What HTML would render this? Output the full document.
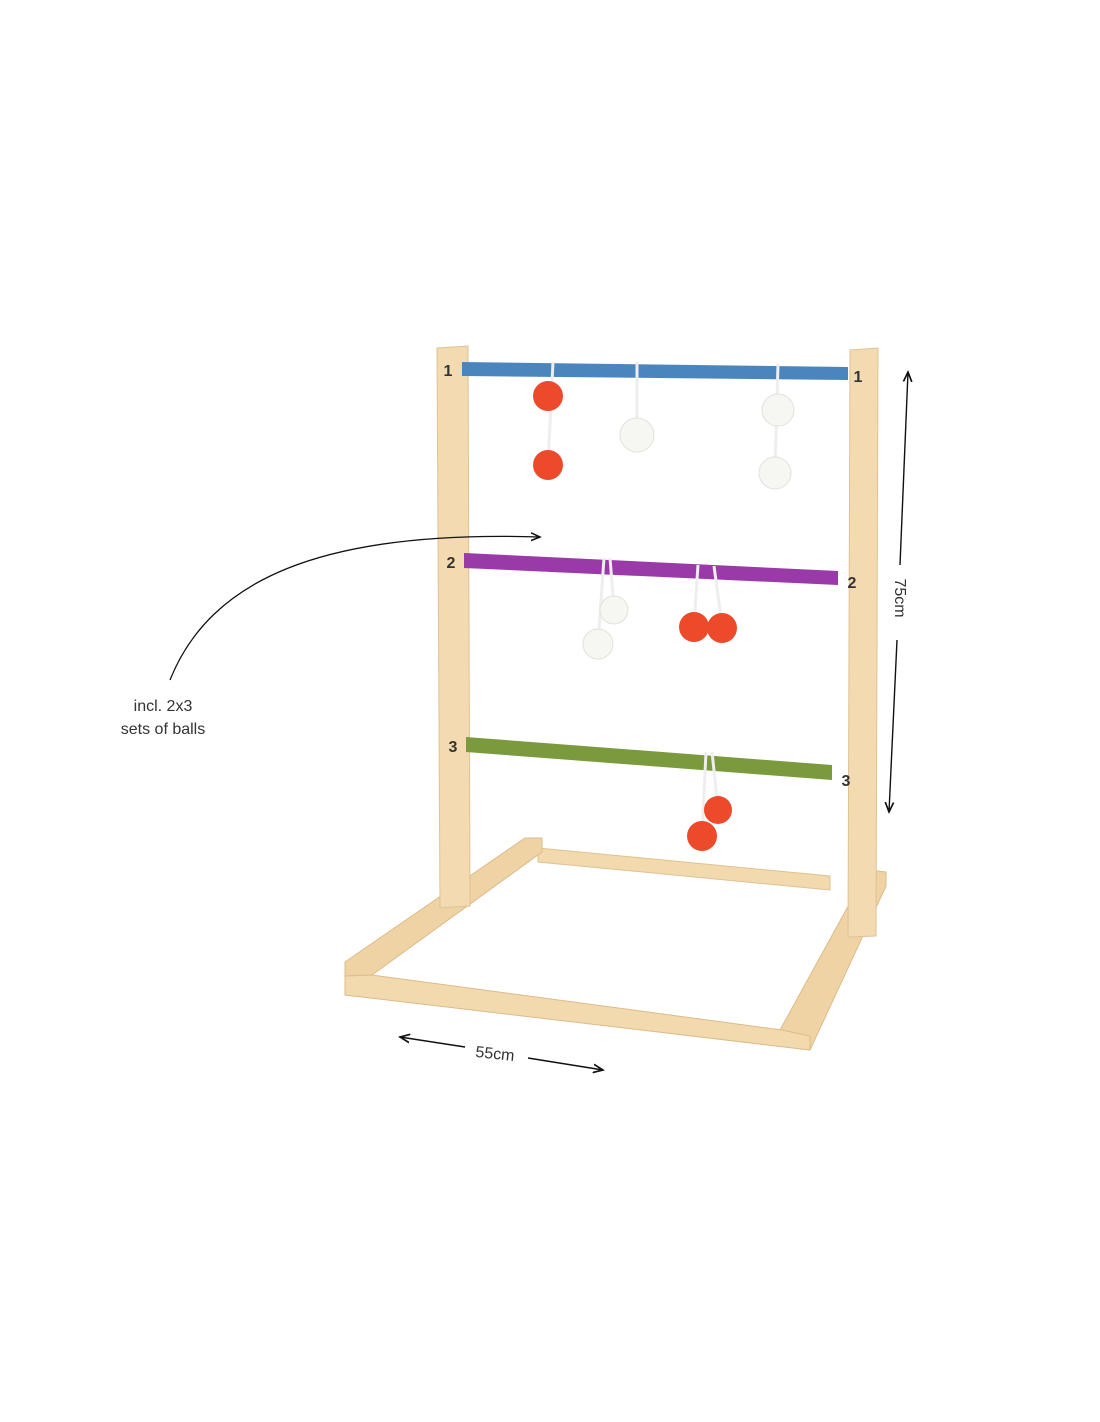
<!DOCTYPE html>
<html><head><style>body{margin:0;background:#fff}svg{display:block}</style></head><body>
<svg width="1100" height="1422" viewBox="0 0 1100 1422" xmlns="http://www.w3.org/2000/svg" font-family="Liberation Sans, sans-serif">
<defs><marker id="ah" markerWidth="8" markerHeight="8" refX="7" refY="4" orient="auto"><path d="M0,1 L7,4 L0,7" fill="none" stroke="#111" stroke-width="1.2"/></marker></defs>
<!-- base -->
<polygon points="538,848 830,876 830,890 538,862" fill="#f2d9ae" stroke="#e0c292"/>
<polygon points="345,962 525,838 542,838 542,852 372,975 345,990" fill="#efd3a5" stroke="#ddbb88"/>
<polygon points="868,870 886,872 886,886 810,1050 780,1045 780,1030" fill="#efd3a5" stroke="#ddbb88"/>
<polygon points="345,976 372,975 782,1030 810,1036 810,1050 345,995" fill="#f2d9ae" stroke="#ddbb88"/>
<!-- posts -->
<polygon points="437,348 468,346 470,906 440,908" fill="#f3dab0" stroke="#e0c292"/>
<polygon points="850,350 878,348 876,936 848,937" fill="#f3dab0" stroke="#e0c292"/>
<!-- bars -->
<polygon points="462,362 848,367 848,380 462,376" fill="#4a86bd"/>
<polygon points="464,553 838,571 838,585 464,568" fill="#9a3aa9"/>
<polygon points="466,737 832,765 832,780 466,752" fill="#7b9a3e"/>
<!-- strings -->
<g stroke="#eee" stroke-width="3" fill="none">
<line x1="553" y1="362" x2="548" y2="465"/><line x1="637" y1="362" x2="637" y2="430"/><line x1="778" y1="364" x2="775" y2="470"/>
<line x1="604" y1="558" x2="598" y2="644"/><line x1="610" y1="558" x2="614" y2="608"/><line x1="698" y1="565" x2="694" y2="625"/><line x1="714" y1="566" x2="722" y2="625"/>
<line x1="706" y1="752" x2="702" y2="836"/><line x1="712" y1="752" x2="718" y2="808"/>
</g>
<!-- balls -->
<g fill="#ec4a2a"><circle cx="548" cy="396" r="15"/><circle cx="548" cy="465" r="15"/><circle cx="694" cy="627" r="15"/><circle cx="722" cy="628" r="15"/><circle cx="718" cy="810" r="14"/><circle cx="702" cy="836" r="15"/></g>
<g fill="#f6f6f3" stroke="#e2e2dc"><circle cx="637" cy="435" r="17"/><circle cx="778" cy="410" r="16"/><circle cx="775" cy="473" r="16"/><circle cx="614" cy="610" r="14"/><circle cx="598" cy="644" r="15"/></g>
<!-- numbers -->
<g font-size="16" font-weight="bold" fill="#333" text-anchor="middle">
<text x="448" y="376">1</text><text x="858" y="382">1</text><text x="451" y="568">2</text><text x="852" y="588">2</text><text x="453" y="752">3</text><text x="846" y="786">3</text></g>
<!-- annotations -->
<path d="M170,680 C210,580 320,530 540,537" fill="none" stroke="#111" stroke-width="1.3" marker-end="url(#ah)"/>
<g font-size="16" fill="#333" text-anchor="middle"><text x="163" y="711">incl. 2x3</text><text x="163" y="734">sets of balls</text>
<text x="495" y="1059" transform="rotate(6 495 1054)">55cm</text>
<text transform="translate(895,598) rotate(90)" text-anchor="middle">75cm</text></g>
<g stroke="#111" stroke-width="1.4" fill="none">
<line x1="900" y1="565" x2="908" y2="372" marker-end="url(#ah)"/><line x1="897" y1="640" x2="889" y2="812" marker-end="url(#ah)"/>
<line x1="465" y1="1047" x2="400" y2="1037" marker-end="url(#ah)"/><line x1="528" y1="1058" x2="603" y2="1070" marker-end="url(#ah)"/></g>
</svg>
</body></html>
